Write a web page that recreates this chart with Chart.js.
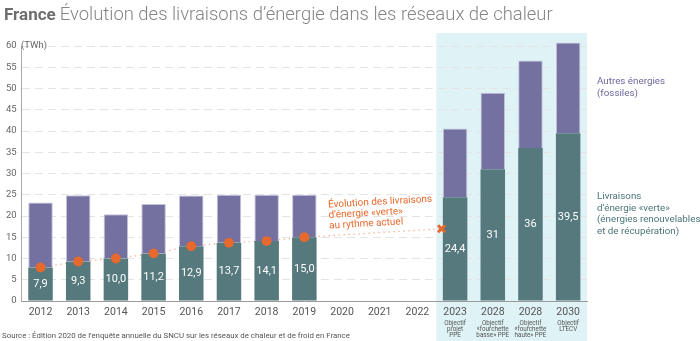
<!DOCTYPE html>
<html><head><meta charset="utf-8">
<script src="https://cdn.jsdelivr.net/npm/chart.js@4.4.1/dist/chart.umd.min.js"></script>
<style>html,body{margin:0;padding:0;background:#fff;}#wrap{width:700px;height:341px;}</style>
</head><body><div id="wrap"><canvas id="c" width="700" height="341"></canvas></div>
<script>
// ---- data ----
const years = ['2012','2013','2014','2015','2016','2017','2018','2019','2020','2021','2022','2023','2028','2028','2030'];
const subLabels = ['','','','','','','','','','','',['Objectif','projet','PPE'],['Objectif','«fourchette','basse» PPE'],['Objectif','«fourchette','haute» PPE'],['Objectif','LTECV']];
const greenValues = [7.9, 9.3, 10.0, 11.2, 12.9, 13.7, 14.1, 15.0, null, null, null, 24.4, 31, 36, 39.5];
const otherValues = [15.3, 15.6, 10.4, 11.6, 11.9, 11.3, 10.9, 10.0, null, null, null, 16.2, 18.0, 20.6, 21.3];
const valueLabels = ['7,9','9,3','10,0','11,2','12,9','13,7','14,1','15,0','','','','24,4','31','36','39,5'];
const dotValues = [7.9, 9.3, 10.0, 11.2, 12.9, 13.7, 14.1, 15.0, null, null, null, null, null, null, null];
const trendPos = [0, 1, 2, 3, 4, 5, 6, 7, 10.64];
const trendValues = [7.9, 9.3, 10.0, 11.2, 12.9, 13.7, 14.1, 15.0, 17.0];
const projPos = [10.64];
const projValues = [17.0];
const yTicks = [0,5,10,15,20,25,30,35,40,45,50,55,60];

const PURPLE = '#74709f', TEAL = '#55797c', ORANGE = '#e8692d';

const decor = {
  id: 'decor',
  beforeDraw(chart) {
    const ctx = chart.ctx, xs = chart.scales.x, ca = chart.chartArea;
    const left = (xs.getPixelForValue(10) + xs.getPixelForValue(11)) / 2;
    ctx.save();
    ctx.fillStyle = '#dff2f5';
    ctx.fillRect(left, 33, ca.right - left, chart.height - 33);
    ctx.restore();
  },
  afterDatasetsDraw(chart) {
    const ctx = chart.ctx;
    const meta = chart.getDatasetMeta(0);
    ctx.save();
    ctx.fillStyle = '#ffffff';
    ctx.font = '11px Roboto';
    ctx.textAlign = 'center';
    ctx.textBaseline = 'middle';
    meta.data.forEach((bar, i) => {
      if (!valueLabels[i]) return;
      ctx.fillText(valueLabels[i], bar.x, (bar.y + bar.base) / 2);
    });
    ctx.restore();
  },
  afterDraw(chart) {
    const ctx = chart.ctx, xs = chart.scales.x;
    ctx.save();
    // title
    ctx.textBaseline = 'alphabetic';
    ctx.textAlign = 'left';
    ctx.font = 'bold 17px Roboto';
    ctx.fillStyle = '#6e6e6e';
    ctx.fillText('France', 4, 20);
    const w = ctx.measureText('France').width;
    ctx.font = '300 18.45px Roboto';
    ctx.fillStyle = '#858585';
    ctx.fillText('Évolution des livraisons d’énergie dans les réseaux de chaleur', 4 + w + 4, 20);
    // sub labels under target years
    ctx.font = '6.3px Roboto';
    ctx.fillStyle = '#555';
    ctx.textAlign = 'center';
    ctx.textBaseline = 'middle';
    subLabels.forEach((lines, i) => {
      if (!lines) return;
      const x = xs.getPixelForValue(i);
      lines.forEach((t, k) => ctx.fillText(t, x, 323 + k * 6.3));
    });
    ctx.textAlign = 'left';
    // unit
    ctx.font = '9.5px Roboto';
    ctx.fillStyle = '#666';
    ctx.fillText('(TWh)', 21, chart.scales.y.getPixelForValue(60));
    // legend texts
    ctx.font = '9.8px Roboto';
    ctx.fillStyle = '#6c699c';
    ['Autres énergies', '(fossiles)'].forEach((t, i) => ctx.fillText(t, 597, 82 + i * 11.5));
    ctx.fillStyle = '#4c7579';
    ['Livraisons', 'd’énergie «verte»', '(énergies renouvelables', 'et de récupération)'].forEach((t, i) => ctx.fillText(t, 597, 197 + i * 11.5));
    // annotation
    ctx.save();
    ctx.translate(328, 205);
    ctx.rotate(-0.055);
    ctx.font = '10px Roboto';
    ctx.fillStyle = ORANGE;
    ['Évolution des livraisons', 'd’énergie «verte»', 'au rythme actuel'].forEach((t, i) => ctx.fillText(t, 0, i * 10.5));
    ctx.restore();
    // source
    ctx.font = '7.85px Roboto';
    ctx.fillStyle = '#555';
    ctx.fillText('Source : Édition 2020 de l’enquête annuelle du SNCU sur les réseaux de chaleur et de froid en France', 2, 336);
    ctx.restore();
  }
};

new Chart(document.getElementById('c'), {
  type: 'bar',
  data: {
    labels: years,
    datasets: [
      { label: 'Livraisons d’énergie «verte»', data: greenValues, backgroundColor: TEAL, borderWidth: 0,
        grouped: false, order: 2, clip: false, barPercentage: 0.65, categoryPercentage: 1 },
      { label: 'Autres énergies (fossiles)', data: otherValues, backgroundColor: PURPLE, borderColor: '#c4c2de',
        borderWidth: 1, borderSkipped: 'bottom', grouped: false, order: 2, clip: false, barPercentage: 0.65, categoryPercentage: 1 },
      { type: 'line', label: 'tendance', stack: 'trend', xAxisID: 'xt', data: trendPos.map((p, i) => ({x: p, y: trendValues[i]})),
        borderColor: '#f3b79a', borderWidth: 1.3, borderDash: [1.5, 3.5], pointRadius: 0, fill: false, order: 5, clip: false },
      { type: 'line', label: 'points', stack: 'pts', data: dotValues, showLine: false, pointRadius: 4.9, pointBackgroundColor: ORANGE,
        pointBorderWidth: 0, order: 1, clip: false },
      { type: 'line', label: 'projection', stack: 'proj', xAxisID: 'xt', data: projPos.map((p, i) => ({x: p, y: projValues[i]})),
        showLine: false, pointStyle: 'crossRot', pointRadius: 5, pointBorderWidth: 3, pointBorderColor: ORANGE, order: 0, clip: false }
    ]
  },
  options: {
    responsive: false,
    devicePixelRatio: 1,
    animation: false,
    events: [],
    layout: { padding: { top: 46, right: 113, left: 1, bottom: 17.4 } },
    plugins: { legend: { display: false }, tooltip: { enabled: false } },
    scales: {
      x: {
        type: 'category', position: 'bottom', stacked: true, offset: true,
        grid: { display: false, drawTicks: false },
        border: { display: true, color: '#9a9a9a', width: 1 },
        ticks: { autoSkip: false, maxRotation: 0, font: { family: 'Roboto', size: 10.5, lineHeight: 1.2 }, color: '#555', padding: 5 }
      },
      xt: { type: 'linear', display: false, min: -0.5, max: 14.5, offset: false },
      y: {
        stacked: true, min: 0, max: 60,
        afterBuildTicks: (s) => { s.ticks = yTicks.map(v => ({ value: v })); },
        grid: { color: (c) => c.tick && c.tick.value === 0 ? 'rgba(0,0,0,0)' : '#e4e4e4', lineWidth: 1, drawTicks: false },
        border: { display: true, color: '#a8a8a8', width: 1, dash: [8, 5] },
        ticks: { font: { family: 'Roboto', size: 9.5 }, color: '#666', padding: 5 }
      }
    }
  },
  plugins: [decor]
});
</script>
</body></html>
